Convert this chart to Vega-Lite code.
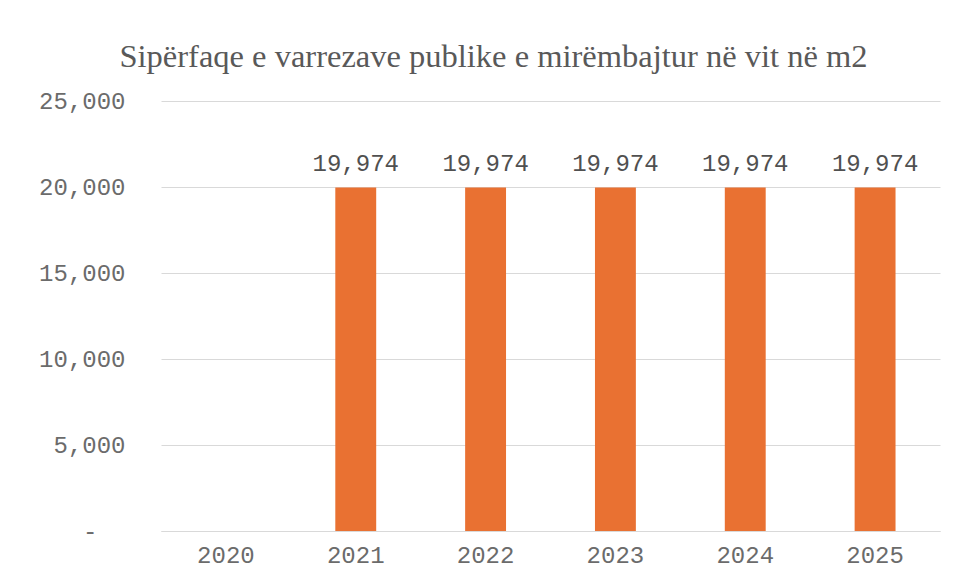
{
  "$schema": "https://vega.github.io/schema/vega-lite/v6.json",
  "width": 779,
  "height": 430,
  "autosize": "none",
  "padding": {"left": 161, "top": 101, "right": 14, "bottom": 51},
  "background": "white",
  "title": {
    "text": "Sipërfaqe e varrezave publike e mirëmbajtur në vit në m2",
    "font": "Liberation Serif",
    "fontSize": 32.5,
    "fontWeight": "normal",
    "color": "#595959",
    "anchor": "middle",
    "dx": -57,
    "offset": 16
  },
  "data": {
    "values": [
      {"year": "2020", "value": null},
      {"year": "2021", "value": 19974},
      {"year": "2022", "value": 19974},
      {"year": "2023", "value": 19974},
      {"year": "2024", "value": 19974},
      {"year": "2025", "value": 19974}
    ]
  },
  "encoding": {
    "x": {
      "field": "year",
      "type": "ordinal",
      "scale": {"domain": ["2020", "2021", "2022", "2023", "2024", "2025"], "paddingInner": 0.685, "paddingOuter": 0.3425},
      "axis": {
        "title": null,
        "labelAngle": 0,
        "labelFont": "Liberation Mono",
        "labelFontSize": 24,
        "labelColor": "#6b6b6b",
        "labelPadding": 12,
        "ticks": false,
        "domainColor": "#D9D9D9",
        "domainWidth": 1
      }
    },
    "y": {
      "field": "value",
      "type": "quantitative",
      "scale": {"domain": [0, 25000], "nice": false},
      "axis": {
        "title": null,
        "values": [0, 5000, 10000, 15000, 20000, 25000],
        "labelExpr": "datum.value === 0 ? '-' : format(datum.value, ',')",
        "labelFont": "Liberation Mono",
        "labelFontSize": 24,
        "labelColor": "#6b6b6b",
        "labelPadding": {"condition": {"test": "datum.value === 0", "value": 64}, "value": 36},
        "ticks": false,
        "domain": false,
        "grid": true,
        "gridColor": "#D9D9D9",
        "gridWidth": 1
      }
    }
  },
  "layer": [
    {
      "mark": {"type": "bar", "color": "#E97132"}
    },
    {
      "mark": {
        "type": "text",
        "baseline": "bottom",
        "dy": -11,
        "font": "Liberation Mono",
        "fontSize": 24,
        "color": "#505050"
      },
      "encoding": {
        "text": {"field": "value", "type": "quantitative", "format": ","}
      }
    }
  ],
  "config": {
    "view": {"stroke": null}
  }
}
